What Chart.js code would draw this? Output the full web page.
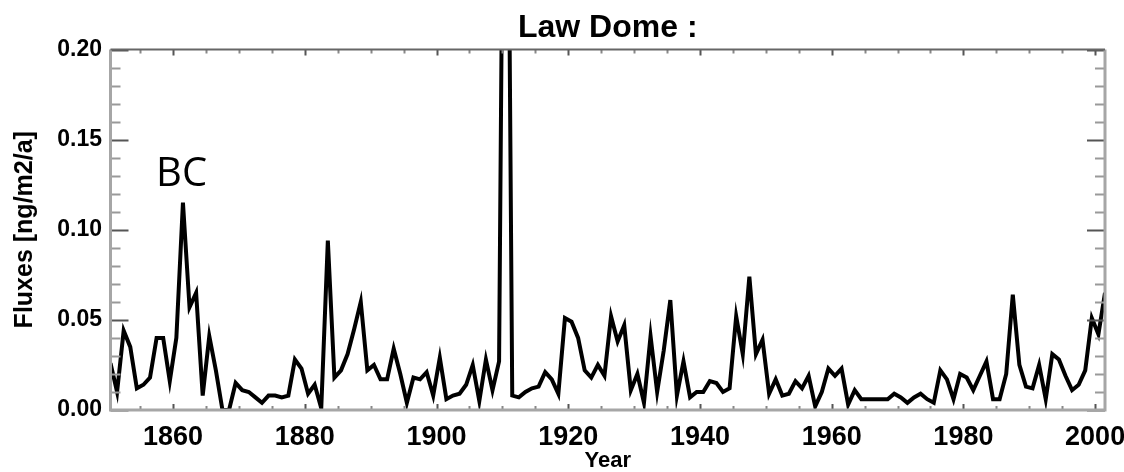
<!DOCTYPE html>
<html><head><meta charset="utf-8">
<script src="https://cdn.jsdelivr.net/npm/chart.js@4/dist/chart.umd.min.js"></script>
<style>html,body{margin:0;padding:0;background:#fff}#wrap{width:1124px;height:472px;position:relative}</style>
</head><body><div id="wrap"><canvas id="c" width="1124" height="472"></canvas></div>
<script>
// ---- data (annual BC fluxes, Law Dome) ----
const firstYear = 1850;
const fluxBC = [
  0.026, 0.010, 0.044, 0.035, 0.012, 0.014, 0.018, 0.040, 0.040, 0.016, // 1850s
  0.040, 0.115, 0.057, 0.065, 0.008, 0.041, 0.022, 0.000, 0.000, 0.015, // 1860s
  0.011, 0.010, 0.007, 0.004, 0.008, 0.008, 0.007, 0.008, 0.028, 0.023, // 1870s
  0.009, 0.014, 0.001, 0.094, 0.018, 0.022, 0.031, 0.045, 0.060, 0.022, // 1880s
  0.025, 0.017, 0.017, 0.034, 0.020, 0.004, 0.018, 0.017, 0.021, 0.008, // 1890s
  0.029, 0.006, 0.008, 0.009, 0.014, 0.025, 0.005, 0.028, 0.011, 0.027, // 1900s
  0.500, 0.008, 0.007, 0.010, 0.012, 0.013, 0.021, 0.017, 0.009, 0.051, // 1910s
  0.049, 0.040, 0.022, 0.018, 0.025, 0.019, 0.052, 0.038, 0.047, 0.011, // 1920s
  0.020, 0.004, 0.041, 0.010, 0.033, 0.061, 0.008, 0.027, 0.007, 0.010, // 1930s
  0.010, 0.016, 0.015, 0.010, 0.012, 0.052, 0.031, 0.074, 0.031, 0.039, // 1940s
  0.009, 0.017, 0.008, 0.009, 0.016, 0.012, 0.019, 0.002, 0.010, 0.023, // 1950s
  0.019, 0.023, 0.003, 0.011, 0.006, 0.006, 0.006, 0.006, 0.006, 0.009, // 1960s
  0.007, 0.004, 0.007, 0.009, 0.006, 0.004, 0.022, 0.017, 0.006, 0.020, // 1970s
  0.018, 0.011, 0.019, 0.027, 0.006, 0.006, 0.020, 0.064, 0.025, 0.013, // 1980s
  0.012, 0.025, 0.006, 0.031, 0.028, 0.019, 0.011, 0.014, 0.022, 0.051, // 1990s
  0.042, 0.065                                                          // 2000s
];
const years = fluxBC.map((_, i) => firstYear + i);
const xTickValues = [1860, 1880, 1900, 1920, 1940, 1960, 1980, 2000];
const yTickValues = [0.00, 0.05, 0.10, 0.15, 0.20];
const titleText = 'Law Dome :';
const xTitle = 'Year';
const yTitle = 'Fluxes [ng/m2/a]';
const annotation = { text: 'BC', x: 1861.3, y: 0.1245 };

const FONT = "'Liberation Sans', Arial, Helvetica, sans-serif";

// inward IDL-style ticks + frame
const frameTicks = {
  id: 'frameTicks',
  afterDatasetsDraw(chart) {
    const { ctx, chartArea: a, scales: { x, y } } = chart;
    ctx.save();
    ctx.lineCap = 'butt';
    for (let i = 0; i <= 20; i++) {
      const py = Math.round(y.getPixelForValue(i / 100)) + 0.5;
      const major = i % 5 === 0;
      const len = major ? 18 : 10;
      ctx.strokeStyle = major ? '#555' : '#999';
      ctx.lineWidth = 2;
      ctx.beginPath();
      ctx.moveTo(a.left, py); ctx.lineTo(a.left + len, py);
      ctx.moveTo(a.right, py); ctx.lineTo(a.right - len, py);
      ctx.stroke();
    }
    for (let yr = 1855; yr <= 2000; yr += 5) {
      const px = Math.round(x.getPixelForValue(yr)) + 0.5;
      const major = yr % 20 === 0;
      const len = major ? 6 : 4;
      ctx.strokeStyle = major ? '#555' : '#888';
      ctx.lineWidth = 2;
      ctx.beginPath();
      ctx.moveTo(px, a.bottom); ctx.lineTo(px, a.bottom - len);
      ctx.moveTo(px, a.top); ctx.lineTo(px, a.top + len);
      ctx.stroke();
    }
    ctx.strokeStyle = '#a6a6a6';
    ctx.lineWidth = 3;
    ctx.beginPath();
    ctx.moveTo(a.left, a.top); ctx.lineTo(a.left, a.bottom); ctx.lineTo(a.right, a.bottom); ctx.lineTo(a.right, a.top);
    ctx.stroke();
    ctx.strokeStyle = '#666';
    ctx.lineWidth = 2;
    ctx.beginPath();
    ctx.moveTo(a.left, a.top); ctx.lineTo(a.right, a.top);
    ctx.stroke();
    ctx.fillStyle = '#000';
    ctx.font = "40px 'Open Sans', 'Noto Sans', sans-serif";
    ctx.textAlign = 'center';
    ctx.textBaseline = 'alphabetic';
    ctx.fillText(annotation.text, x.getPixelForValue(annotation.x), y.getPixelForValue(annotation.y));
    ctx.restore();
  }
};

new Chart(document.getElementById('c'), {
  type: 'line',
  data: {
    datasets: [{
      label: 'BC',
      // annual values plotted at mid-year
      data: years.map((yr, i) => ({ x: yr + 0.5, y: fluxBC[i] })),
      borderColor: '#000',
      borderWidth: 4,
      pointRadius: 0,
      tension: 0,
      borderJoinStyle: 'miter',
      fill: false,
      clip: 0
    }]
  },
  options: {
    responsive: false,
    devicePixelRatio: 1,
    animation: false,
    events: [],
    layout: { padding: { left: 0, right: 19, top: 0, bottom: 0 } },
    plugins: {
      legend: { display: false },
      tooltip: { enabled: false },
      title: {
        display: true,
        text: titleText,
        fullSize: false,
        color: '#000',
        font: { family: FONT, size: 32, weight: 'bold', lineHeight: 1 },
        padding: { top: 12, bottom: 5.5 }
      }
    },
    scales: {
      x: {
        type: 'linear',
        min: 1850.5,
        max: 2001.5,
        grid: { display: false, drawTicks: false },
        border: { display: false },
        afterBuildTicks: s => { s.ticks = xTickValues.map(v => ({ value: v })); },
        afterFit: s => { s.height = 62; s.paddingLeft = 0; s.paddingRight = 0; },
        ticks: {
          color: '#000',
          padding: 11,
          maxRotation: 0,
          autoSkip: false,
          font: { family: FONT, size: 27, weight: 'bold' },
          callback: v => String(v)
        },
        title: {
          display: true,
          text: xTitle,
          color: '#000',
          font: { family: FONT, size: 22, weight: 'bold', lineHeight: 1 },
          padding: { top: 0, bottom: 0 }
        }
      },
      y: {
        type: 'linear',
        min: 0,
        max: 0.2,
        grid: { display: false, drawTicks: false },
        border: { display: false },
        afterBuildTicks: s => { s.ticks = yTickValues.map(v => ({ value: v })); },
        afterFit: s => { s.width = 110.5; s.paddingTop = 0; s.paddingBottom = 0; },
        ticks: {
          color: '#000',
          padding: 8.5,
          autoSkip: false,
          font: { family: FONT, size: 23, weight: 'bold' },
          callback: v => Number(v).toFixed(2)
        },
        title: {
          display: true,
          text: yTitle,
          color: '#000',
          font: { family: FONT, size: 25, weight: 'bold', lineHeight: 1 },
          padding: { top: 12.5, bottom: 0 }
        }
      }
    }
  },
  plugins: [frameTicks]
});
</script>
</body></html>
